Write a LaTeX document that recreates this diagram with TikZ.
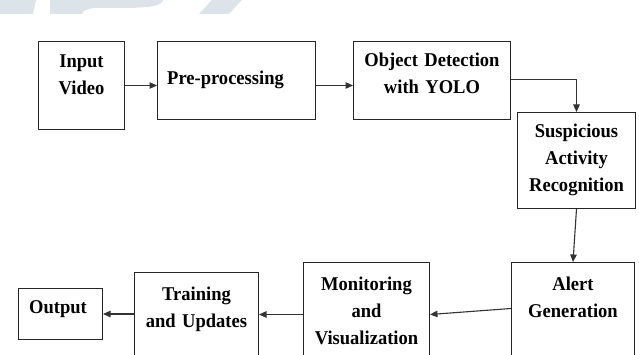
\documentclass[tikz,border=0pt]{standalone}
\usepackage{fontspec}
\setmainfont{Liberation Serif}[FakeStretch=0.95]
\usetikzlibrary{arrows.meta}

\definecolor{wmark}{RGB}{221,228,233}
\tikzset{
    box/.style={draw=black!85, line width=1pt, inner sep=0pt, anchor=north west},
    lbl/.style={font=\fontsize{19.5}{27}\selectfont\bfseries, inner sep=0pt},
    ml/.style={lbl, align=center, text width=150pt, anchor=base},
    arr/.style={draw=black!80, line width=1.1pt, -{Triangle[length=7.5pt,width=6.5pt]}}
}

\begin{document}
\begin{tikzpicture}[x=1pt, y=-1pt]
    \useasboundingbox (0,0) rectangle (639,355);
    \clip (0,0) rectangle (639,355);

    % Watermark
    \fill[wmark] (0,0) -- (36,0) -- (33,14) -- (0,14) -- cycle;
    \fill[wmark] (50,0) -- (163,0) .. controls (162,6) and (150,8) .. (120,8)
        -- (95,8) .. controls (86,9) and (83,11) .. (82,14) -- (50,14) -- cycle;
    \fill[wmark] (212,0) -- (242,0) -- (229,14) -- (199,14) -- cycle;

    % Boxes
    \foreach \name/\x/\y/\w/\h in {
        input/38/41/86/88,
        pre/157/41/158/78,
        obj/353/41/157/78,
        susp/517/112/118/96,
        alert/511/262/123/104,
        mon/303/262/126/104,
        train/134/272/124/94,
        output/18/288/84/51
    } {
        \node[box, minimum width=\w pt, minimum height=\h pt] (\name) at (\x,\y) {};
    }

    % Box texts
    \foreach \name/\dy/\txt in {
        input/27/{Input\\Video},
        obj/26/{Object Detection\\with YOLO},
        susp/26/{Suspicious\\Activity\\Recognition},
        alert/28/{Alert\\Generation},
        mon/28/{Monitoring\\and\\Visualization},
        train/28/{Training\\and Updates}
    } {
        \node[ml] (\name-txt) at ([yshift=-\dy pt]\name.north) {\txt};
    }
    \node[lbl, anchor=base west] (pre-txt) at (167,85) {Pre-processing};
    \node[lbl, anchor=base west] (output-txt) at (29,313) {Output};

    % Flow
    \draw[arr] (input.east) -- (input.east -| pre.west);
    \draw[arr] ([yshift=-5pt]pre.east) -- ([yshift=-5pt]pre.east -| obj.west);
    \draw[arr] ([yshift=1pt]obj.east) -| (susp.north);
    \draw[arr] (susp.south) -- (alert.north);
    \draw[arr] ([yshift=6pt]alert.west) -- (mon.east);
    \draw[arr] (mon.west) -- (mon.west -| train.east);
    \draw[arr] (output.east -| train.west) -- (output.east);
\end{tikzpicture}
\end{document}
